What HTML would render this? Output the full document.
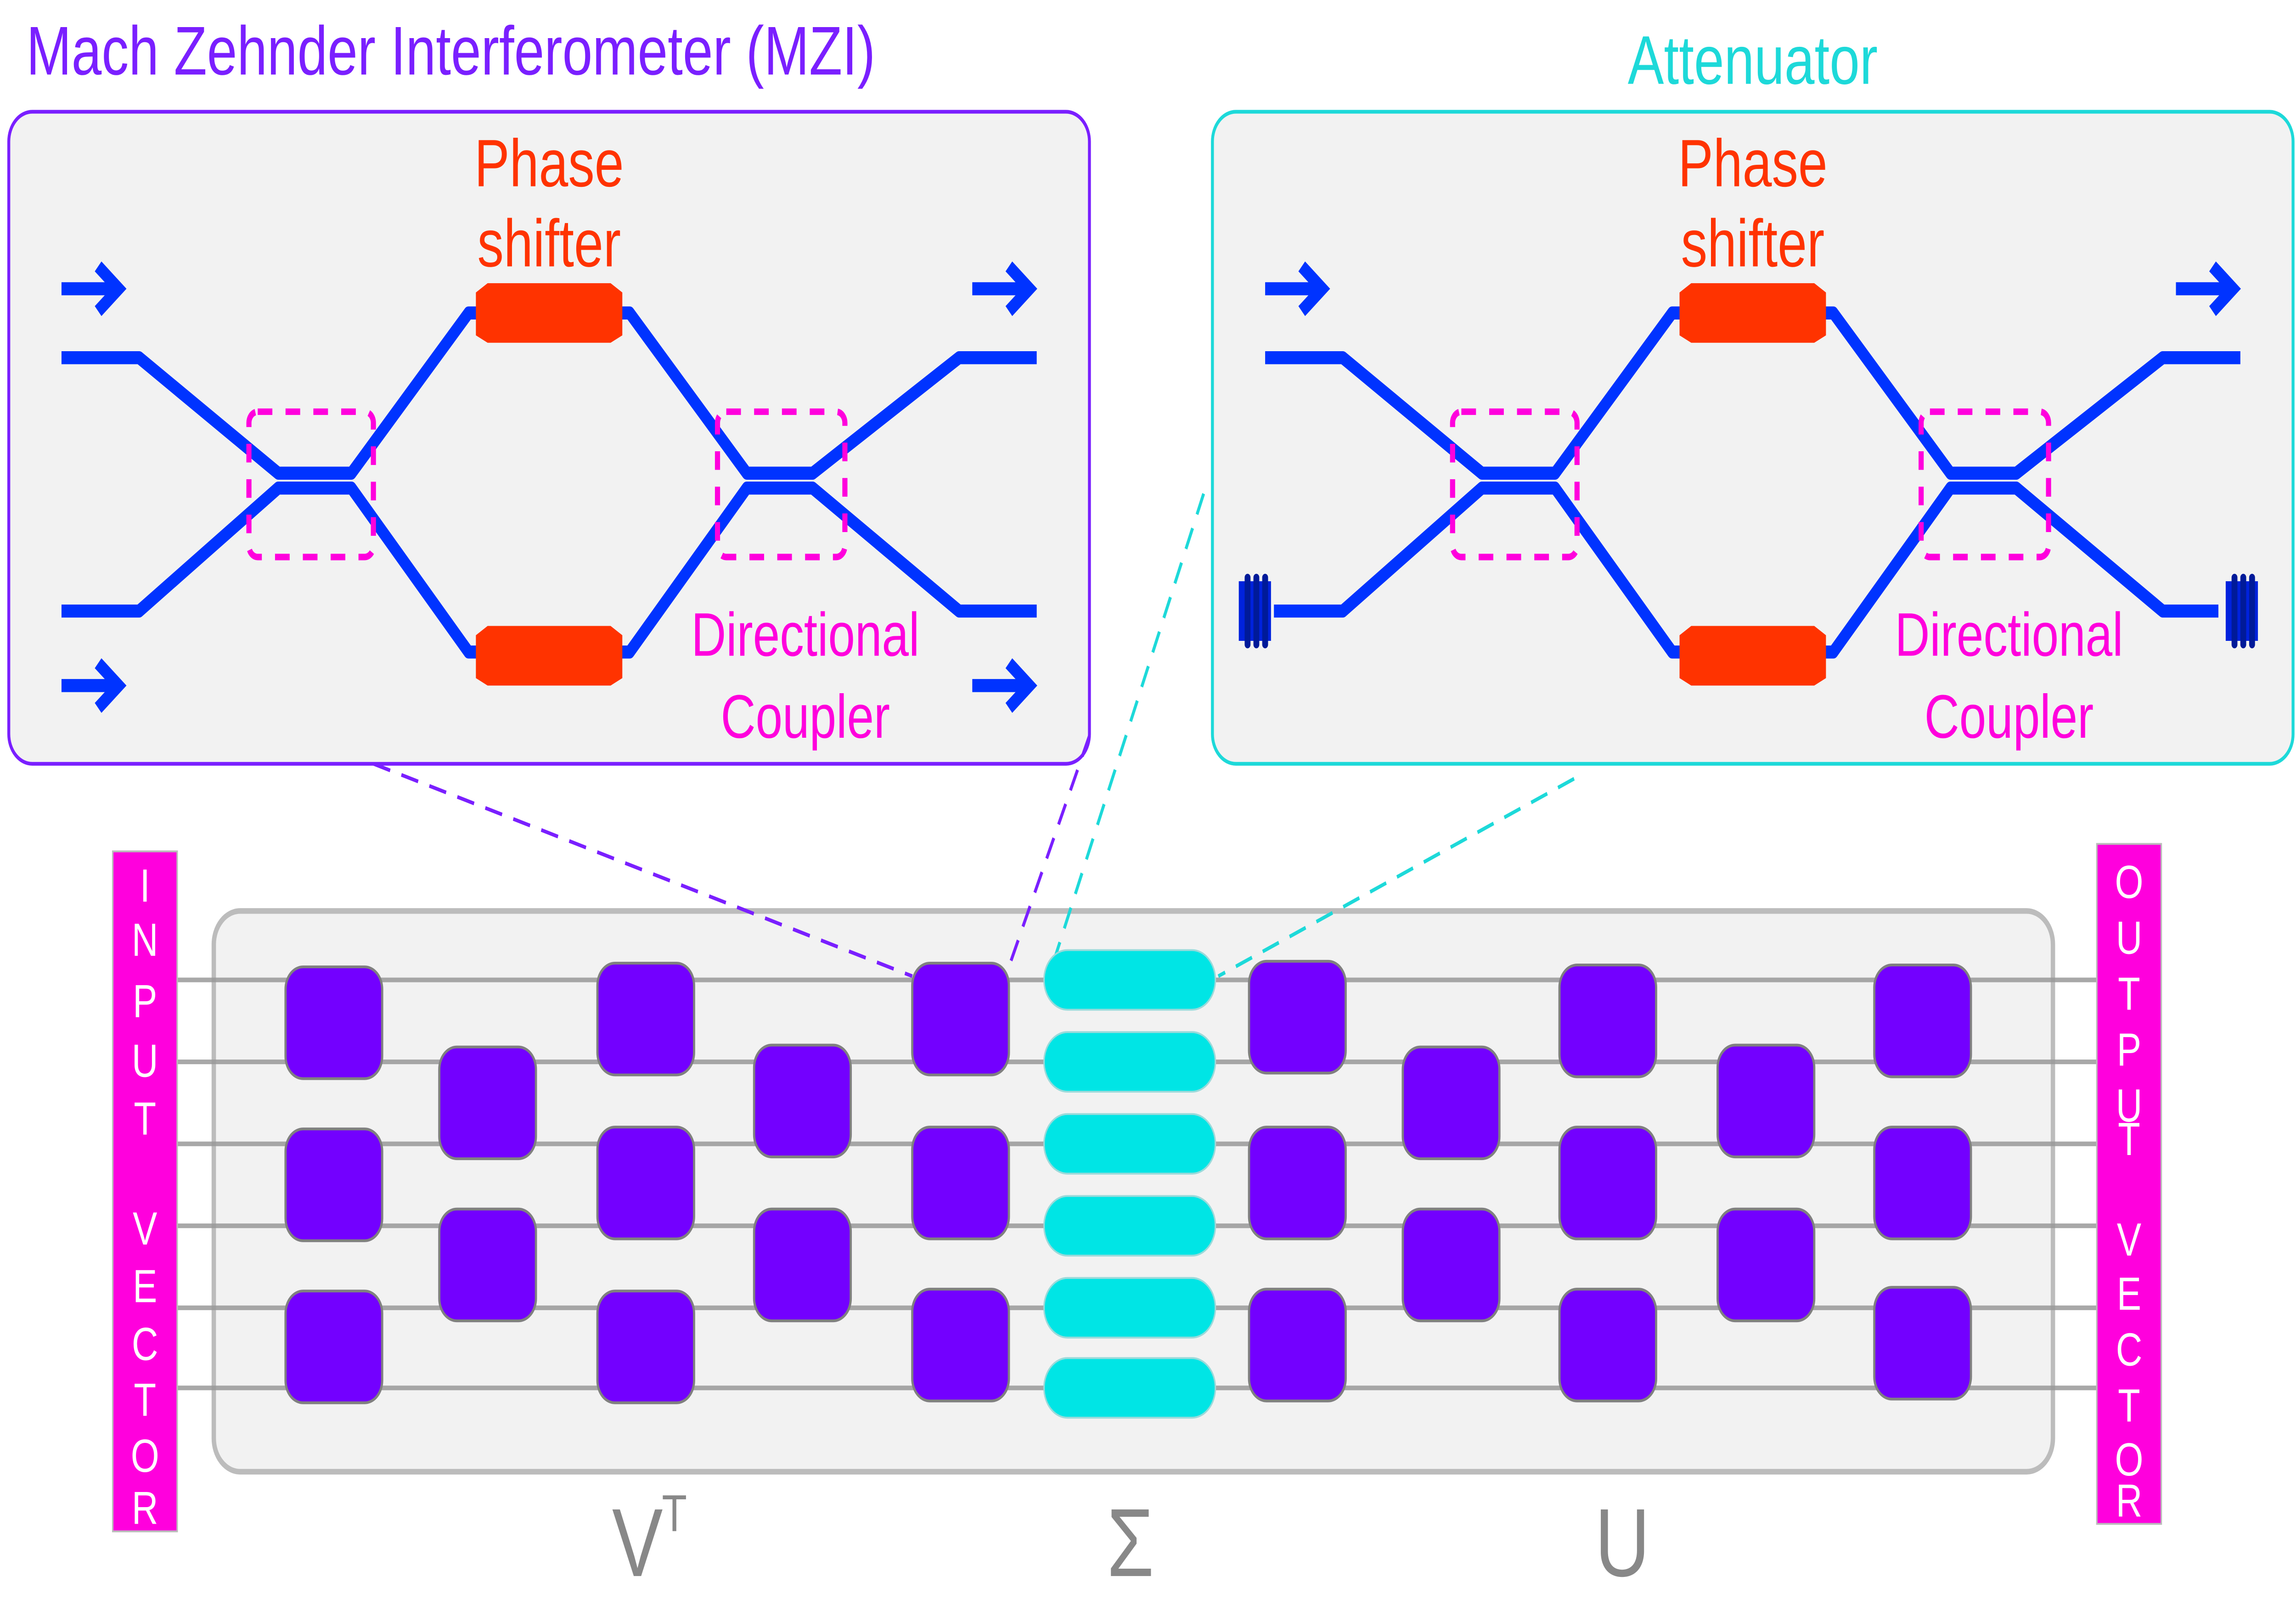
<!DOCTYPE html>
<html><head><meta charset="utf-8"><style>
html,body{margin:0;padding:0;background:#fff;width:100%;height:100%;overflow:hidden;}
svg{display:block;width:100vw;height:100vh;}
text{font-family:"Liberation Sans","DejaVu Sans",sans-serif;}
</style></head><body>
<svg viewBox="0 0 1568 861" preserveAspectRatio="none" xmlns="http://www.w3.org/2000/svg">
<defs>
<g id="wg">
  <g fill="none" stroke="#0033ff" stroke-width="7" stroke-linejoin="round">
    <path d="M42,192 H95 L190,254 H240 L320,168 H430 L510,254 H555 L655,192 H708"/>
    <path d="M42,328 H95 L190,262 H240 L320,350 H430 L510,262 H555 L655,328 H708"/>
  </g>
  <path d="M325,157 L333,152 H417 L425,157 V180 L417,184 H333 L325,180 Z" fill="#ff3300"/>
  <path d="M325,341 L333,336 H417 L425,341 V364 L417,368 H333 L325,364 Z" fill="#ff3300"/>
  <g fill="none" stroke="#ff00dd" stroke-width="3.5" stroke-dasharray="10,9">
    <rect x="170" y="221" width="85" height="78" rx="6"/>
    <rect x="490" y="221" width="87" height="78" rx="6"/>
  </g>
  <g font-size="36" fill="#ff3300" text-anchor="middle">
    <text x="375" y="100">Phase</text><text x="375" y="143">shifter</text>
  </g>
  <g font-size="33" fill="#ff00dd" text-anchor="middle">
    <text x="550" y="352">Directional</text><text x="550" y="396">Coupler</text>
  </g>
</g>
<g id="arr" fill="none" stroke="#0033ff" stroke-width="7">
  <path d="M0,0 H38"/><path d="M25,-12 L39,0 L25,12"/>
</g>
<g id="term">
  <rect x="0" y="-16" width="22" height="32" fill="#0022dd"/>
  <rect x="4" y="-20" width="4" height="40" rx="2" fill="#001a99"/>
  <rect x="10" y="-20" width="4" height="40" rx="2" fill="#001a99"/>
  <rect x="16" y="-20" width="4" height="40" rx="2" fill="#001a99"/>
</g>
</defs>

<text x="18" y="40" font-size="37" fill="#7a1fff">Mach Zehnder Interferometer (MZI)</text>
<rect x="6" y="60" width="738" height="350" rx="16" fill="#f2f2f2" stroke="#7a1fff" stroke-width="2"/>
<use href="#wg"/>
<use href="#arr" transform="translate(42,155)"/>
<use href="#arr" transform="translate(42,368)"/>
<use href="#arr" transform="translate(664,155)"/>
<use href="#arr" transform="translate(664,368)"/>

<text x="1197" y="45" font-size="37" fill="#1dd9d9" text-anchor="middle">Attenuator</text>
<rect x="828" y="60" width="738" height="350" rx="16" fill="#f2f2f2" stroke="#1dd9d9" stroke-width="2"/>
<use href="#wg" transform="translate(822,0)"/>
<rect x="845" y="320" width="25" height="16" fill="#f2f2f2"/>
<rect x="1515" y="320" width="30" height="16" fill="#f2f2f2"/>
<use href="#term" transform="translate(846,328)"/>
<use href="#term" transform="translate(1520,328)"/>
<use href="#arr" transform="translate(864,155)"/>
<use href="#arr" transform="translate(1486,155)"/>

<rect x="146" y="489" width="1256" height="301" rx="18" fill="#f2f2f2" stroke="#bcbcbc" stroke-width="3"/>
<g stroke="#999" stroke-width="2.5" opacity="0.85">
  <line x1="120" y1="526" x2="1432" y2="526"/><line x1="120" y1="570" x2="1432" y2="570"/>
  <line x1="120" y1="614" x2="1432" y2="614"/><line x1="120" y1="658" x2="1432" y2="658"/>
  <line x1="120" y1="702" x2="1432" y2="702"/><line x1="120" y1="745" x2="1432" y2="745"/>
</g>

<g fill="none" stroke-width="2" stroke-dasharray="12,8">
  <path d="M255,410 L623,524" stroke="#7a1fff"/>
  <path d="M744,395 L689,519" stroke="#7a1fff"/>
  <path d="M822,265 L718,520" stroke="#1dd9d9"/>
  <path d="M1075,418 L832,524" stroke="#1dd9d9"/>
</g>

<g fill="#7300ff" stroke="#808080" stroke-width="1.5">
  <rect x="195" y="519" width="66" height="60" rx="12"/><rect x="195" y="606" width="66" height="60" rx="12"/><rect x="195" y="693" width="66" height="60" rx="12"/>
  <rect x="300" y="562" width="66" height="60" rx="12"/><rect x="300" y="649" width="66" height="60" rx="12"/>
  <rect x="408" y="517" width="66" height="60" rx="12"/><rect x="408" y="605" width="66" height="60" rx="12"/><rect x="408" y="693" width="66" height="60" rx="12"/>
  <rect x="515" y="561" width="66" height="60" rx="12"/><rect x="515" y="649" width="66" height="60" rx="12"/>
  <rect x="623" y="517" width="66" height="60" rx="12"/><rect x="623" y="605" width="66" height="60" rx="12"/><rect x="623" y="692" width="66" height="60" rx="12"/>
  <rect x="853" y="516" width="66" height="60" rx="12"/><rect x="853" y="605" width="66" height="60" rx="12"/><rect x="853" y="692" width="66" height="60" rx="12"/>
  <rect x="958" y="562" width="66" height="60" rx="12"/><rect x="958" y="649" width="66" height="60" rx="12"/>
  <rect x="1065" y="518" width="66" height="60" rx="12"/><rect x="1065" y="605" width="66" height="60" rx="12"/><rect x="1065" y="692" width="66" height="60" rx="12"/>
  <rect x="1173" y="561" width="66" height="60" rx="12"/><rect x="1173" y="649" width="66" height="60" rx="12"/>
  <rect x="1280" y="518" width="66" height="60" rx="12"/><rect x="1280" y="605" width="66" height="60" rx="12"/><rect x="1280" y="691" width="66" height="60" rx="12"/>
</g>
<g fill="#00e5e5" stroke="#9adada" stroke-width="1">
  <rect x="713" y="510" width="117" height="32" rx="16"/><rect x="713" y="554" width="117" height="32" rx="16"/>
  <rect x="713" y="598" width="117" height="32" rx="16"/><rect x="713" y="642" width="117" height="32" rx="16"/>
  <rect x="713" y="686" width="117" height="32" rx="16"/><rect x="713" y="729" width="117" height="32" rx="16"/>
</g>

<rect x="77" y="457" width="44" height="365" fill="#ff00dd" stroke="#bbb" stroke-width="1"/>
<g fill="#fff" font-size="25" text-anchor="middle">
  <text x="99" y="484">I</text><text x="99" y="513">N</text><text x="99" y="546">P</text><text x="99" y="578">U</text><text x="99" y="609">T</text>
  <text x="99" y="668">V</text><text x="99" y="699">E</text><text x="99" y="730">C</text><text x="99" y="760">T</text><text x="99" y="790">O</text><text x="99" y="818">R</text>
</g>
<rect x="1432" y="453" width="44" height="365" fill="#ff00dd" stroke="#bbb" stroke-width="1"/>
<g fill="#fff" font-size="25" text-anchor="middle">
  <text x="1454" y="482">O</text><text x="1454" y="512">U</text><text x="1454" y="542">T</text><text x="1454" y="572">P</text><text x="1454" y="602">U</text><text x="1454" y="620">T</text>
  <text x="1454" y="674">V</text><text x="1454" y="703">E</text><text x="1454" y="733">C</text><text x="1454" y="763">T</text><text x="1454" y="792">O</text><text x="1454" y="814">R</text>
</g>

<g fill="#888" font-size="52">
  <text x="418" y="846">V</text><text x="452" y="822" font-size="28">T</text>
  <text x="772" y="846" text-anchor="middle">Σ</text>
  <text x="1108" y="846" text-anchor="middle">U</text>
</g>
</svg>
</body></html>
